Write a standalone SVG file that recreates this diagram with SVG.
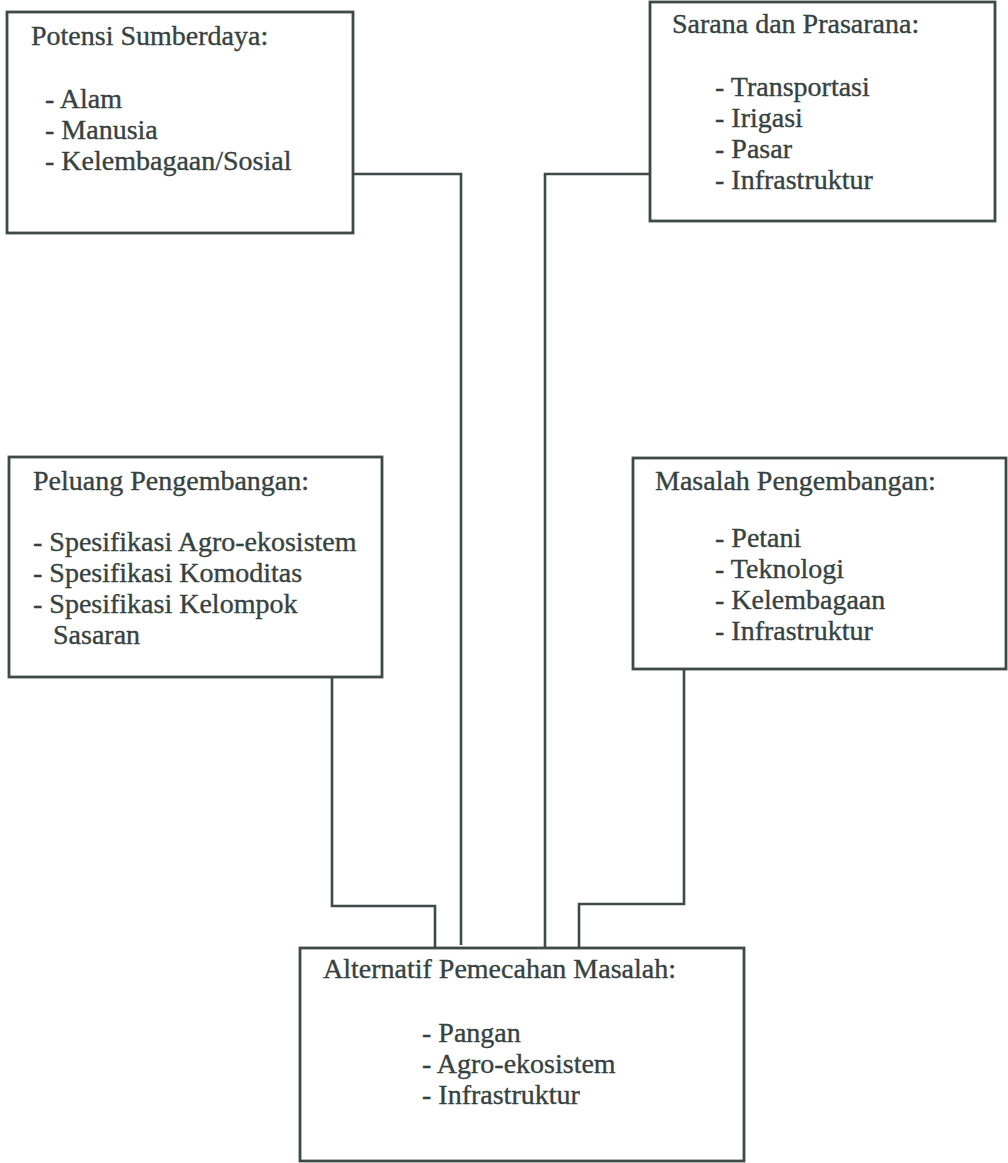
<svg xmlns="http://www.w3.org/2000/svg" width="1008" height="1163" viewBox="0 0 1008 1163">
<style>
.box{fill:none;stroke:#3e4a47;stroke-width:2.8}
.con{fill:none;stroke:#3e4a47;stroke-width:2.6}
text{font-family:"Liberation Serif","Times New Roman",serif;font-size:28px;fill:#36423f;stroke:#36423f;stroke-width:0.35}
</style>
<rect width="1008" height="1163" fill="#ffffff"/>
<g id="connectors">
<polyline class="con" points="353,174 461,174 461,945"/>
<polyline class="con" points="650,174 545,174 545,948"/>
<polyline class="con" points="332,677 332,906 435,906 435,948"/>
<polyline class="con" points="684,669 684,904 579,904 579,948"/>
</g>
<g id="potensi">
<rect class="box" x="7" y="12" width="346" height="221"/>
<text x="31" y="45">Potensi Sumberdaya:</text>
<text x="45" y="108">- Alam</text>
<text x="45" y="139">- Manusia</text>
<text x="45" y="170">- Kelembagaan/Sosial</text>
</g>
<g id="sarana">
<rect class="box" x="650" y="2" width="345" height="219"/>
<text x="672" y="33">Sarana dan Prasarana:</text>
<text x="715" y="96">- Transportasi</text>
<text x="715" y="127">- Irigasi</text>
<text x="715" y="158">- Pasar</text>
<text x="715" y="189">- Infrastruktur</text>
</g>
<g id="peluang">
<rect class="box" x="9" y="457" width="373" height="220"/>
<text x="33" y="490">Peluang Pengembangan:</text>
<text x="33" y="551">- Spesifikasi Agro-ekosistem</text>
<text x="33" y="582">- Spesifikasi Komoditas</text>
<text x="33" y="613">- Spesifikasi Kelompok</text>
<text x="53" y="644">Sasaran</text>
</g>
<g id="masalah">
<rect class="box" x="633" y="458" width="373" height="211"/>
<text x="655" y="490">Masalah Pengembangan:</text>
<text x="715" y="547">- Petani</text>
<text x="715" y="578">- Teknologi</text>
<text x="715" y="609">- Kelembagaan</text>
<text x="715" y="640">- Infrastruktur</text>
</g>
<g id="alternatif">
<rect class="box" x="300" y="948" width="444" height="213"/>
<text x="323" y="978">Alternatif Pemecahan Masalah:</text>
<text x="422" y="1042">- Pangan</text>
<text x="422" y="1073">- Agro-ekosistem</text>
<text x="422" y="1104">- Infrastruktur</text>
</g>
</svg>
